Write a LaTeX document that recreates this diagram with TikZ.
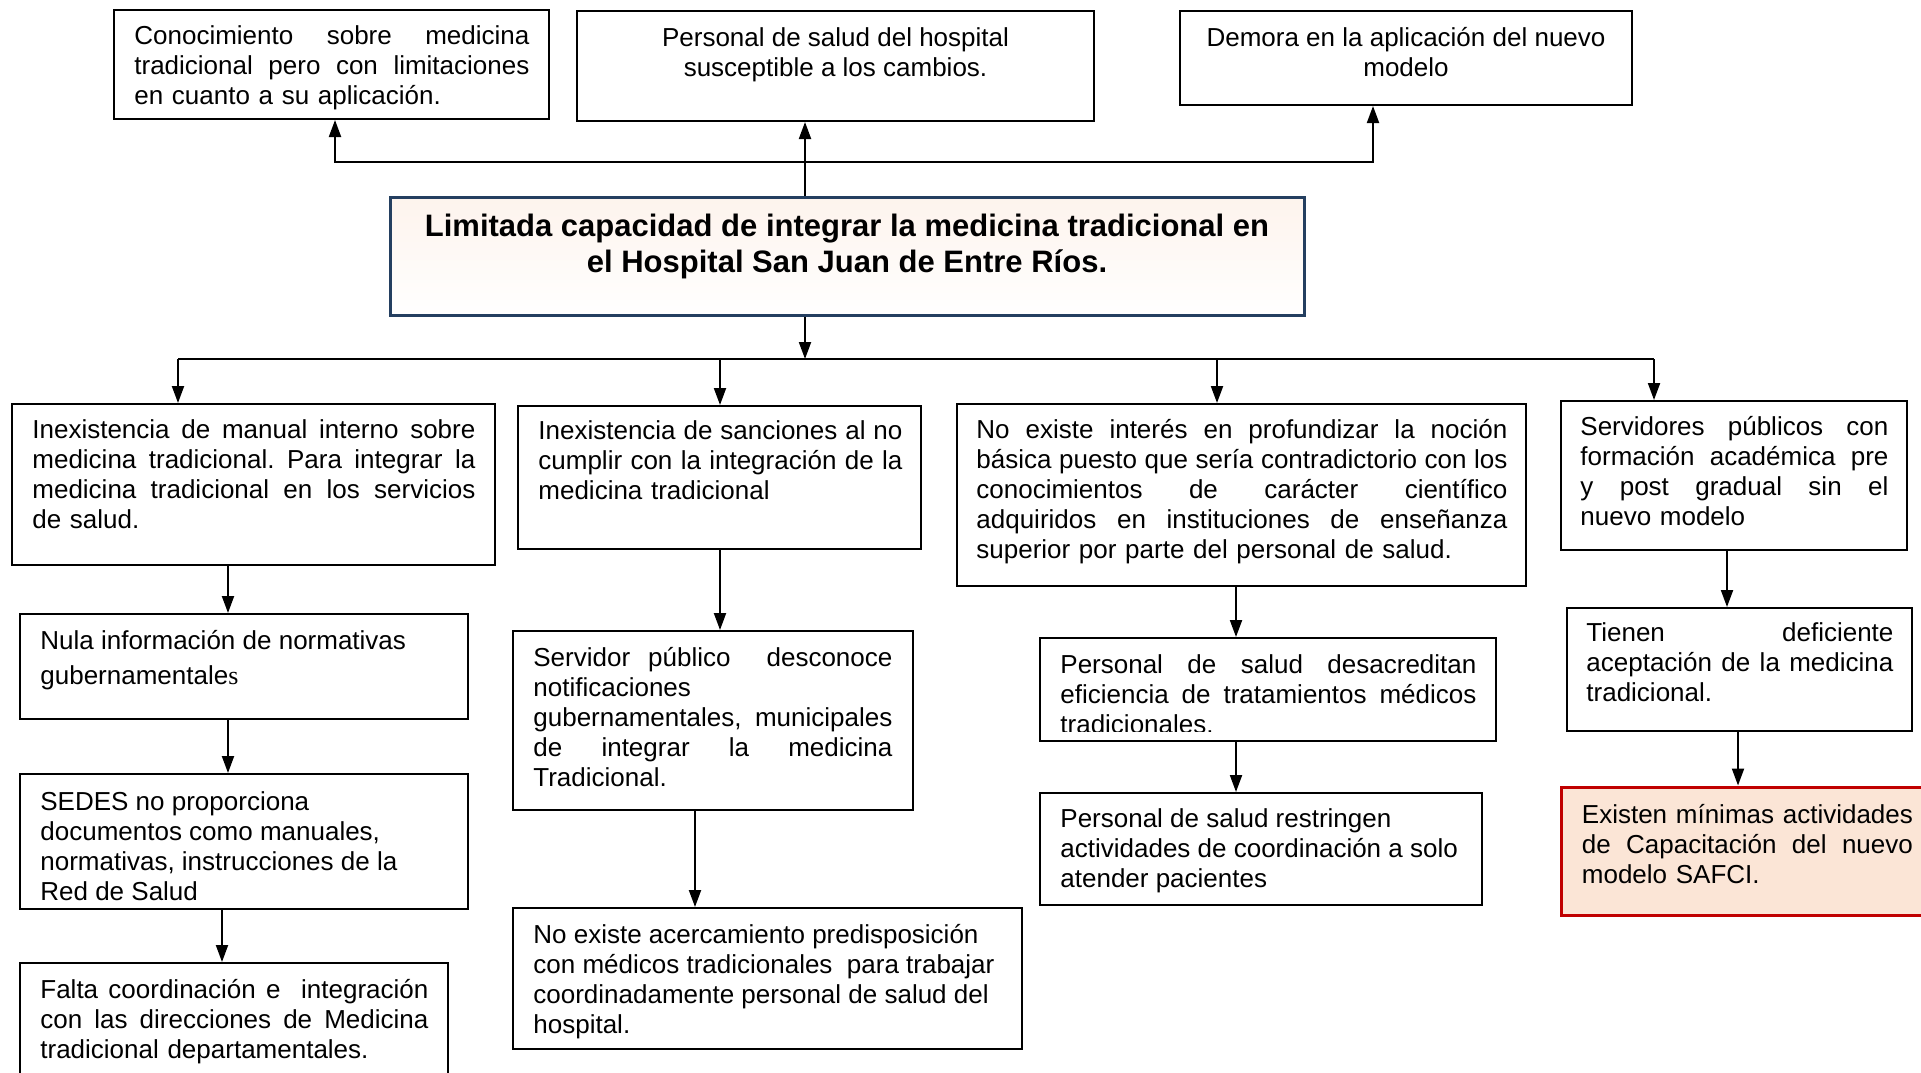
\documentclass[tikz,border=0pt]{standalone}
\usepackage{fontspec}
\setmainfont{Liberation Sans}
\newfontfamily\serifs{Liberation Serif}
\usetikzlibrary{arrows.meta,fit}
\definecolor{peach}{HTML}{FBE5D6}
\definecolor{navy}{HTML}{243F60}
\definecolor{redb}{HTML}{C00000}
\newcommand\jl[1]{{\frenchspacing\spaceskip=0pt\xspaceskip=0pt\makebox[\hsize][s]{#1}}}
\frenchspacing
\begin{document}
\begin{tikzpicture}[x=0.5pt,y=-0.5pt,
  box/.style={draw=black, line width=1pt, inner sep=0pt, rectangle},
  cbox/.style={draw=navy, line width=1.5pt, inner sep=0pt, rectangle, top color=peach!45!white, middle color=peach, bottom color=white},
  rbox/.style={draw=redb, line width=1.5pt, inner sep=0pt, rectangle, fill=peach},
  txt/.style={anchor=north west, inner sep=0pt, align=left, font=\fontsize{13}{15}\selectfont},
  ctxt/.style={anchor=north, inner sep=0pt, align=center, font=\fontsize{13}{15}\selectfont},
  arr/.style={-{Triangle[length=8.5pt,width=6pt]}, line width=1pt},
  ln/.style={line width=1pt}
]
\fill[white] (0,0) rectangle (1921,1072);
\useasboundingbox (0,0) rectangle (1921,1072);

% ---------- top row ----------
\node[box, fit={(114,10) (549,119)}] (T1) {};
\node[txt, text width=197.5pt] (T1t) at (134,23) {\strut\jl{Conocimiento sobre medicina}\\\jl{tradicional pero con limitaciones}\\en cuanto a su aplicación.};
\node[box, fit={(577,11) (1094,121)}] (T2) {};
\node[ctxt] (T2t) at (835.5,25) {\strut Personal de salud del hospital\\susceptible a los cambios.};
\node[box, fit={(1180,11) (1632,105)}] (T3) {};
\node[ctxt] (T3t) at (1406,25) {\strut Demora en la aplicación del nuevo\\modelo};

% ---------- central ----------
\node[cbox, fit={(390,197) (1304,315)}] (C) {};
\node[ctxt, font=\bfseries\fontsize{15.5}{18}\selectfont] (Ct) at (847,211) {\strut Limitada capacidad de integrar la medicina tradicional en\\el Hospital San Juan de Entre Ríos.};

% ---------- first row of causes ----------
\node[box, fit={(12,404) (495,565)}] (L1) {};
\node[txt, text width=221.5pt] (L1t) at (32,417) {\strut\jl{Inexistencia de manual interno sobre}\\\jl{medicina tradicional. Para integrar la}\\\jl{medicina tradicional en los servicios}\\de salud.};
\node[box, fit={(518,406) (921,549)}] (M1) {};
\node[txt, text width=182pt] (M1t) at (538,418) {\strut\jl{Inexistencia de sanciones al no}\\\jl{cumplir con la integración de la}\\medicina tradicional};
\node[box, fit={(957,404) (1526,586)}] (R1) {};
\node[txt, text width=265.5pt] (R1t) at (976,417) {\strut\jl{No existe interés en profundizar la noción}\\\jl{básica puesto que sería contradictorio con los}\\\jl{conocimientos de carácter científico}\\\jl{adquiridos en instituciones de enseñanza}\\superior por parte del personal de salud.};
\node[box, fit={(1561,401) (1907,550)}] (F1) {};
\node[txt, text width=154pt] (F1t) at (1580,414.5) {\strut\jl{Servidores públicos con}\\\jl{formación académica pre}\\\jl{y post gradual sin el}\\nuevo modelo};

% ---------- left column ----------
\node[box, fit={(20,614) (468,719)}] (L2) {};
\node[txt, font=\fontsize{13}{17.75}\selectfont] (L2t) at (40,623.8) {\strut Nula información de normativas\\gubernamentale{\serifs s}};
\node[box, fit={(20,774) (468,909)}] (L3) {};
\node[txt] (L3t) at (40,789) {\strut SEDES no proporciona\\documentos como manuales,\\normativas, instrucciones de la\\Red de Salud};
\node[box, fit={(20,963) (448,1090)}] (L4) {};
\node[txt, text width=194pt] (L4t) at (40,977) {\strut\jl{Falta coordinación e~ integración}\\\jl{con las direcciones de Medicina}\\tradicional departamentales.};

% ---------- middle column ----------
\node[box, fit={(513,631) (913,810)}] (M2) {};
\node[txt, text width=179.5pt] (M2t) at (533,645) {\strut\jl{Servidor público~ desconoce}\\notificaciones\\\jl{gubernamentales, municipales}\\\jl{de integrar la medicina}\\Tradicional.};
\node[box, fit={(513,908) (1022,1049)}] (M3) {};
\node[txt] (M3t) at (533,921.6) {\strut No existe acercamiento predisposición\\con médicos tradicionales~ para trabajar\\coordinadamente personal de salud del\\hospital.};

% ---------- right column ----------
\node[box, fit={(1040,638) (1496,741)}] (R2) {};
\begin{scope}
\clip (1040,638) rectangle (1496,731);
\node[txt, text width=208pt] (R2t) at (1060,652) {\strut\jl{Personal de salud desacreditan}\\\jl{eficiencia de tratamientos médicos}\\tradicionales.};
\end{scope}
\node[box, fit={(1040,793) (1482,905)}] (R3) {};
\node[txt] (R3t) at (1060,806.5) {\strut Personal de salud restringen\\actividades de coordinación a solo\\atender pacientes};

% ---------- far right column ----------
\node[box, fit={(1567,608) (1912,731)}] (F2) {};
\node[txt, text width=153.5pt] (F2t) at (1586,620) {\strut\jl{Tienen deficiente}\\\jl{aceptación de la medicina}\\tradicional.};
\node[rbox, fit={(1561,787) (1940,915)}] (F3) {};
\node[txt, text width=165.5pt] (F3t) at (1581.5,801.6) {\strut\jl{Existen mínimas actividades}\\\jl{de Capacitación del nuevo}\\modelo SAFCI.};

% ---------- connector coordinates ----------
\coordinate (xT1) at (335,0);
\coordinate (xT2) at (805,0);
\coordinate (xT3) at (1373,0);
\coordinate (yTop) at (0,162);
\coordinate (yBot) at (0,359);
\coordinate (xL1) at (178,0);
\coordinate (xM1) at (720,0);
\coordinate (xR1) at (1217,0);
\coordinate (xF1) at (1654,0);
\coordinate (xLa) at (228,0);
\coordinate (xLb) at (222,0);
\coordinate (xMb) at (695,0);
\coordinate (xR) at (1236,0);
\coordinate (xFa) at (1727,0);
\coordinate (xFb) at (1738,0);

% ---------- connectors: effects ----------
\draw[arr] (C.north -| xT2) -- (T2.south -| xT2);
\draw[{Triangle[length=8.5pt,width=6pt]}-{Triangle[length=8.5pt,width=6pt]}, line width=1pt]
  (T1.south -| xT1) |- (yTop -| xT3) -- (T3.south -| xT3);

% ---------- connectors: causes ----------
\draw[arr] (C.south -| xT2) -- (yBot -| xT2);
\draw[ln] (yBot -| xL1) -- (yBot -| xF1);
\draw[arr] (yBot -| xL1) -- (L1.north -| xL1);
\draw[arr] (yBot -| xM1) -- (M1.north -| xM1);
\draw[arr] (yBot -| xR1) -- (R1.north -| xR1);
\draw[arr] (yBot -| xF1) -- (F1.north -| xF1);

\draw[arr] (L1.south -| xLa) -- (L2.north -| xLa);
\draw[arr] (L2.south -| xLa) -- (L3.north -| xLa);
\draw[arr] (L3.south -| xLb) -- (L4.north -| xLb);

\draw[arr] (M1.south -| xM1) -- (M2.north -| xM1);
\draw[arr] (M2.south -| xMb) -- (M3.north -| xMb);

\draw[arr] (R1.south -| xR) -- (R2.north -| xR);
\draw[arr] (R2.south -| xR) -- (R3.north -| xR);

\draw[arr] (F1.south -| xFa) -- (F2.north -| xFa);
\draw[arr] (F2.south -| xFb) -- (F3.north -| xFb);
\end{tikzpicture}
\end{document}
